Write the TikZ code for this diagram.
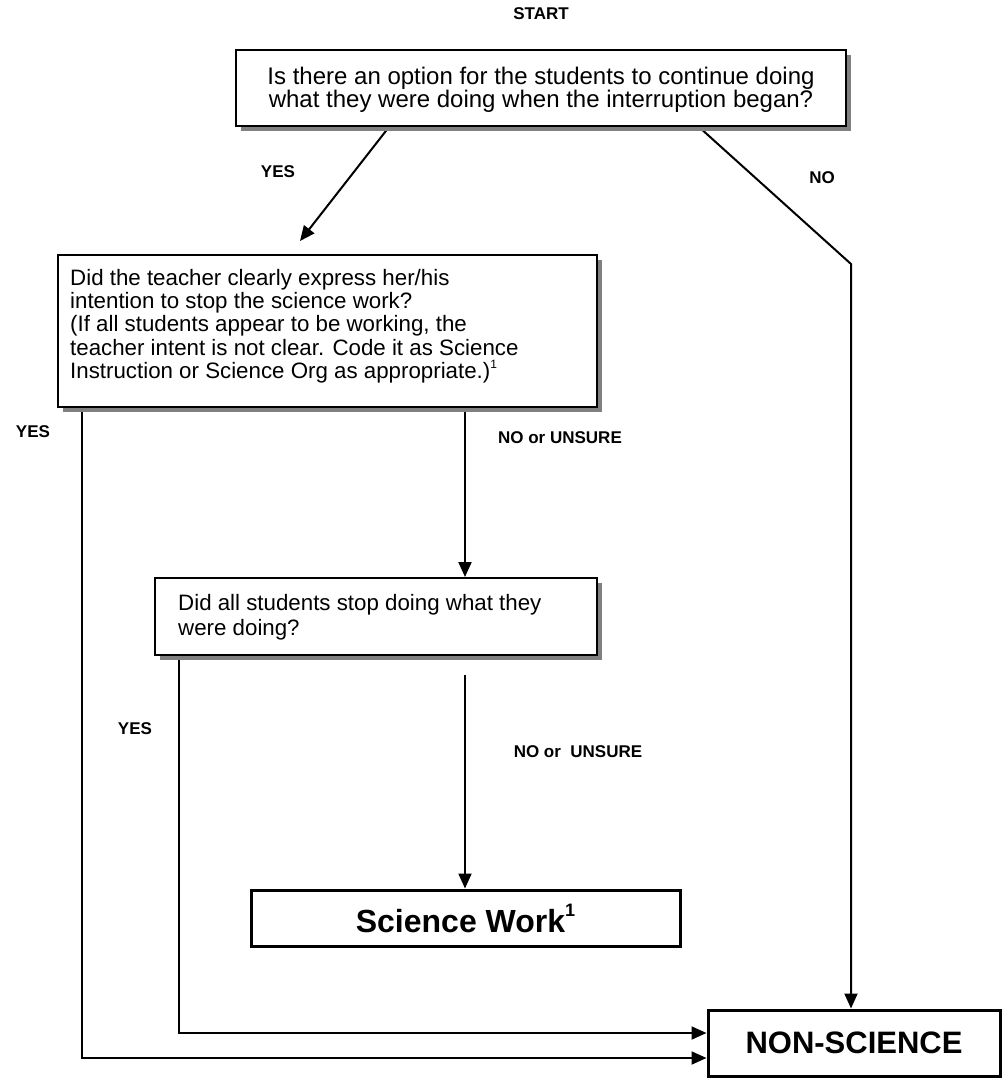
\documentclass[tikz,border=0pt]{standalone}
\usepackage{fontspec}
\setmainfont{Liberation Sans}
\usetikzlibrary{arrows.meta,shadows,backgrounds}
\begin{document}
\begin{tikzpicture}[x=1pt,y=-1pt,
  qbox/.style={draw,line width=2pt,fill=white,inner sep=0pt,
    drop shadow={shadow xshift=5pt,shadow yshift=-5pt,fill=black!50,opacity=1}},
  endbox/.style={draw,line width=3pt,fill=white,inner sep=0pt,
    font=\fontsize{32}{34}\selectfont\bfseries},
  qtext/.style={inner sep=0pt,font=\fontsize{22.3}{23.3}\selectfont},
  lbl/.style={inner sep=0pt,font=\fontsize{17}{19}\selectfont\bfseries},
  arr/.style={line width=2pt,-{Triangle[length=15pt,width=13pt]}}
]
\useasboundingbox (0,0) rectangle (1006,1082);

% boxes
\node[qbox,minimum width=610pt,minimum height=76pt] (q1) at (541,88) {};
\node[qtext,font=\fontsize{24}{23.3}\selectfont,align=center] (t1) at (541,90)
  {Is there an option for the students to continue doing\\what they were doing when the interruption began?};

\node[qbox,minimum width=539pt,minimum height=152pt] (q2) at (327.5,331) {};
\node[qtext,align=left,anchor=north west] (t2) at (70,269)
  {Did the teacher clearly express her/his\\intention to stop the science work?\\(If all students appear to be working, the\\teacher intent is not clear. Code it as Science\\Instruction or Science Org as appropriate.)\raisebox{0.45em}{\fontsize{12}{12}\selectfont 1}};

\node[qbox,minimum width=442pt,minimum height=77pt] (q3) at (376,616.5) {};
\node[qtext,font=\fontsize{22.3}{25}\selectfont,align=left,anchor=north west] (t3) at (178,594)
  {Did all students stop doing what they\\were doing?};

\node[endbox,minimum width=429pt,minimum height=56pt] (sw) at (465.5,918)
  {Science Work\raisebox{0.5em}{\fontsize{18}{18}\selectfont 1}};
\node[endbox,font=\fontsize{31}{34}\selectfont\bfseries,minimum width=292pt,minimum height=66pt] (ns) at (854,1043) {NON-SCIENCE};

% labels
\node[lbl] (lstart) at (541,14) {START};
\node[lbl] (lyes1) at (278,172) {YES};
\node[lbl] (lno1) at (822,178) {NO};
\node[lbl] (lyes2) at (33,432) {YES};
\node[lbl] (lnu1) at (560,438) {NO or UNSURE};
\node[lbl] (lyes3) at (135,729) {YES};
\node[lbl] (lnu2) at (578,752) {NO or\ \ UNSURE};

% helper coordinates
\coordinate (yesend) at (300,241);
\coordinate (nobend) at (851,264);
\coordinate (c465) at (465,0);
\coordinate (swstart) at (465,675);
\coordinate (c82) at (82,1058);
\coordinate (c179) at (179,1033);

\begin{pgfonlayer}{background}
\draw[arr] ([xshift=154pt]q1.south west) -- (yesend);
\draw[arr] ([xshift=464pt]q1.south west) -- (nobend) -- (nobend |- ns.north);
\draw[arr] (q2.south -| c465) -- (q3.north -| c465);
\draw[arr] (swstart) -- (sw.north -| swstart);
\draw[arr] (q2.south -| c82) -- (c82) -- (c82 -| ns.west);
\draw[arr] (q3.south -| c179) -- (c179) -- (c179 -| ns.west);
\end{pgfonlayer}
\end{tikzpicture}
\end{document}
